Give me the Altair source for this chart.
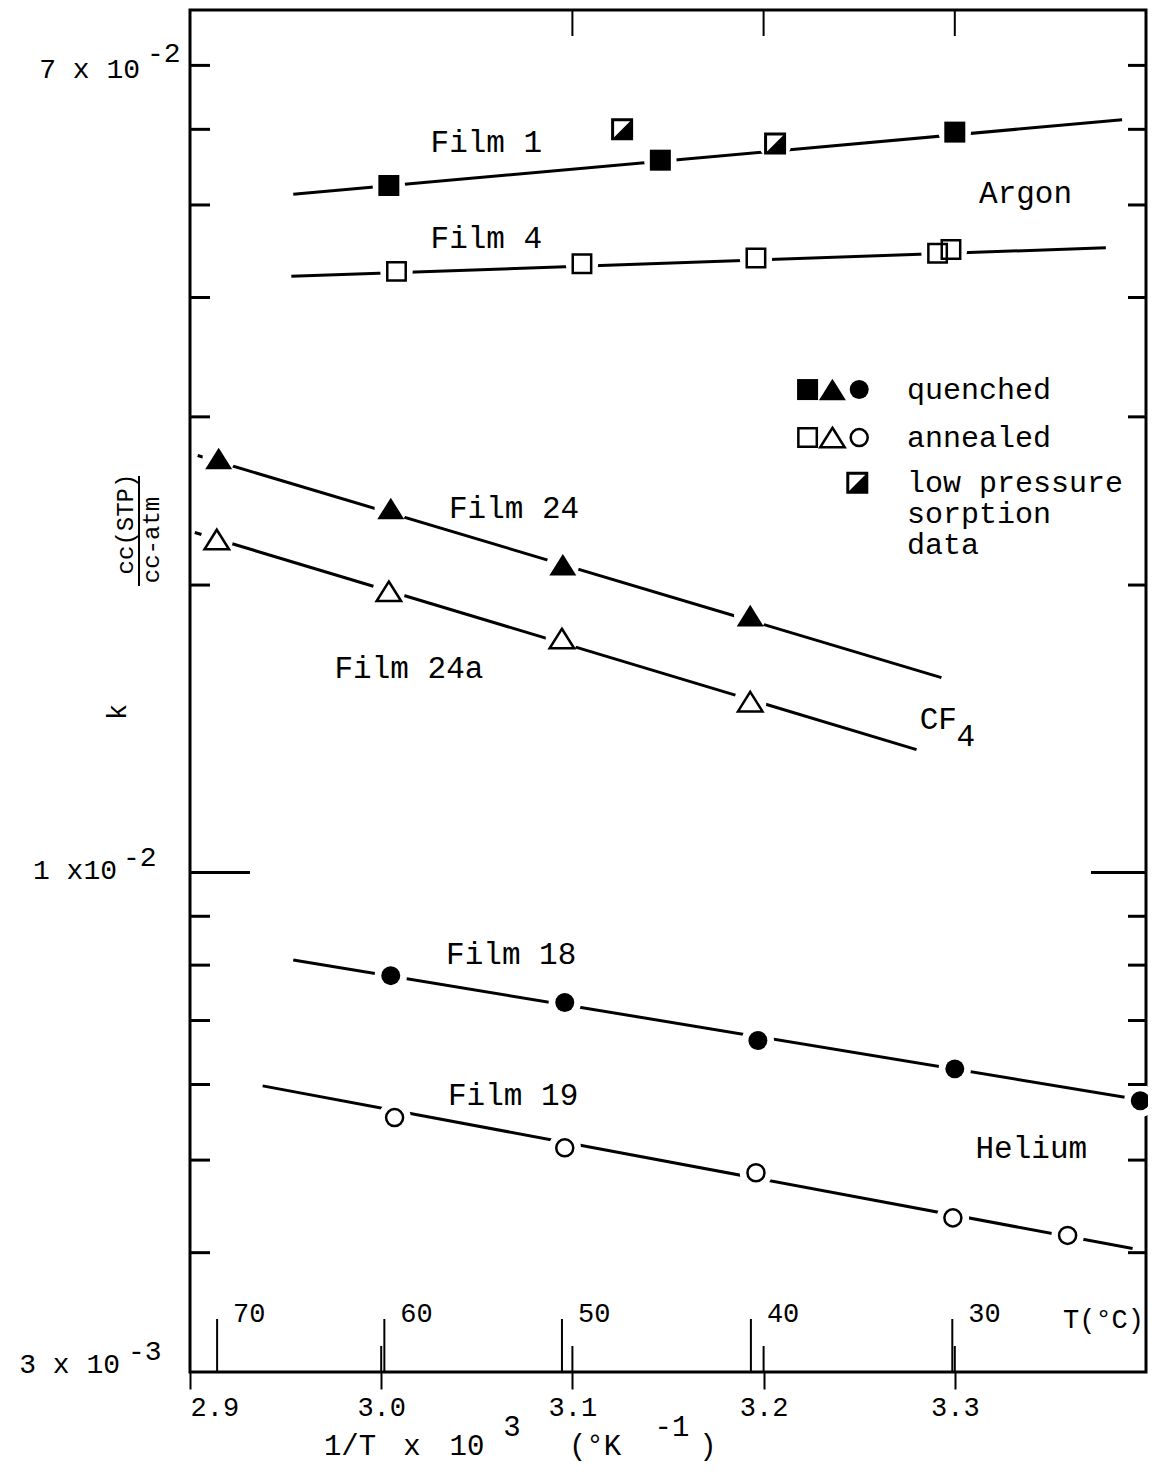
import altair as alt
import pandas as pd

# ---------------- values ----------------
# Argon
film1_x = [3.004, 3.146, 3.300]
film1_k = [0.0524, 0.0557, 0.0596]
lowp_x = [3.126, 3.206]
lowp_k = [0.0600, 0.0580]
film4_x = [3.008, 3.105, 3.196, 3.291, 3.298]
film4_k = [0.0426, 0.0434, 0.0440, 0.0445, 0.0449]
# CF4
film24_x = [2.915, 3.005, 3.095, 3.193]
film24_k = [0.02713, 0.02405, 0.02100, 0.01858]
film24a_x = [2.914, 3.004, 3.0945, 3.193]
film24a_k = [0.02232, 0.01970, 0.01758, 0.01510]
# Helium
film18_x = [3.005, 3.096, 3.197, 3.300, 3.397]
film18_k = [0.00780, 0.00731, 0.00667, 0.00623, 0.00577]
film19_x = [3.007, 3.096, 3.196, 3.299, 3.359]
film19_k = [0.00554, 0.00515, 0.00485, 0.00435, 0.00417]

# drawn straight lines (end points)
line_names = ["Film 1", "Film 4", "Film 24", "Film 24a", "Film 18", "Film 19"]
line_x0 = [2.954, 2.953, 2.904, 2.9025, 2.954, 2.938]
line_x1 = [3.3875, 3.379, 3.293, 3.280, 3.400, 3.393]
line_k0 = [0.0513, 0.0421, 0.02733, 0.0227, 0.0081, 0.00598]
line_k1 = [0.0614, 0.0451, 0.0160, 0.01345, 0.00577, 0.00404]

# in-plot labels
label_text = ["Film 1", "Film 4", "Argon", "Film 24", "Film 24a", "Film 18", "Film 19", "Helium"]
label_x = [3.055, 3.055, 3.337, 3.0695, 3.0145, 3.068, 3.069, 3.340]
label_k = [0.0581, 0.0461, 0.0513, 0.0240, 0.01632, 0.0082, 0.00584, 0.00514]
cf_x, cf_k = 3.2914, 0.01443
cf_sub_x, cf_sub_k = 3.3057, 0.01385

# legend
leg_sym_x = [3.223, 3.236, 3.250]
leg_row_k = [0.03204, 0.02854]
leg_half_x, leg_half_k = 3.249, 0.0256
leg_text = ["quenched", "annealed", "low pressure\nsorption\ndata"]
leg_text_x = 3.275
leg_text_k = [0.03204, 0.02854, 0.0256]

# axes
x_ticks = [2.9, 3.0, 3.1, 3.2, 3.3]
x_inner_ticks = [3.0, 3.1, 3.2, 3.3]
x_top_ticks = [3.1, 3.2, 3.3]
temp_c = [70, 60, 50, 40, 30]
y_minor = [0.004, 0.005, 0.006, 0.007, 0.008, 0.009, 0.02, 0.03, 0.04, 0.05, 0.06, 0.07]
y_major = [0.01]
ylab_vals = [0.07, 0.01, 0.003]
ylab_base = ["7 x 10", "1 x10", "3 x 10"]
ylab_exp = ["-2", "-2", "-3"]

# ---------------- layout ----------------
W, H = 956, 1362
FONT = "Liberation Mono"
xs = alt.Scale(domain=[2.9, 3.4], nice=False, zero=False)
ys = alt.Scale(type="log", domain=[0.003, 0.08], nice=False)

xaxis = alt.Axis(values=x_ticks, format=".1f", tickSize=17, tickWidth=2,
                 tickColor="black", domain=False, grid=False, labelFont=FONT,
                 labelFontSize=27, labelColor="black", labelPadding=5,
                 labelFlush=True, title=None)


def X(field="x"):
    return alt.X(f"{field}:Q", scale=xs, axis=xaxis)


def Y(field="k"):
    return alt.Y(f"{field}:Q", scale=ys, axis=None)


layers = []

# lines
rows = []
for n, a, b, c, d in zip(line_names, line_x0, line_x1, line_k0, line_k1):
    rows.append({"name": n, "x": a, "k": c})
    rows.append({"name": n, "x": b, "k": d})
lines_df = pd.DataFrame(rows)
layers.append(alt.Chart(lines_df).mark_line(color="black", strokeWidth=3).encode(
    x=X(), y=Y(), detail="name:N"))


def pts(xv, kv):
    return pd.DataFrame({"x": xv, "k": kv})


fsq = pts(film1_x, film1_k)
osq = pts(film4_x, film4_k)
ftri = pts(film24_x, film24_k)
otri = pts(film24a_x, film24a_k)
fcir = pts(film18_x, film18_k)
ocir = pts(film19_x, film19_k)
half = pts(lowp_x, lowp_k)

# white halos break the lines around the markers
halo = pd.concat([fsq, osq, ftri, otri, fcir, ocir, half])
layers.append(alt.Chart(halo).mark_point(shape="circle", filled=True, color="white",
                                         opacity=1, size=1050).encode(x=X(), y=Y()))

TRI = "M0,-0.8L1,0.8L-1,0.8Z"
HALF = "M1,-1L1,1L-1,1Z"

legend_q = pd.DataFrame({"x": leg_sym_x, "k": [leg_row_k[0]] * 3})
legend_a = pd.DataFrame({"x": leg_sym_x, "k": [leg_row_k[1]] * 3})
half_all = pd.concat([half, pts([leg_half_x], [leg_half_k])])


def marker(df, shape, filled, size, sw=2.5):
    if filled:
        m = alt.Chart(df).mark_point(shape=shape, filled=True, color="black",
                                     opacity=1, size=size, strokeWidth=0)
    else:
        m = alt.Chart(df).mark_point(shape=shape, filled=False, color="black",
                                     opacity=1, size=size, strokeWidth=sw)
    return m.encode(x=X(), y=Y())


layers += [
    marker(pd.concat([fsq, legend_q.iloc[[0]]]), "square", True, 441),
    marker(pd.concat([osq, legend_a.iloc[[0]]]), "square", False, 340),
    marker(pd.concat([ftri, legend_q.iloc[[1]]]), TRI, True, 729),
    marker(pd.concat([otri, legend_a.iloc[[1]]]), TRI, False, 600),
    marker(pd.concat([fcir, legend_q.iloc[[2]]]), "circle", True, 360),
    marker(pd.concat([ocir, legend_a.iloc[[2]]]), "circle", False, 290),
    marker(half_all, HALF, True, 361),
    marker(half_all, "square", False, 361, sw=3),
]

# in-plot labels
lab_df = pd.DataFrame({"x": label_x, "k": label_k, "t": label_text})
layers.append(alt.Chart(lab_df).mark_text(font=FONT, fontSize=31, color="black").encode(
    x=X(), y=Y(), text="t:N"))
layers.append(alt.Chart(pd.DataFrame({"x": [cf_x], "k": [cf_k], "t": ["CF"]})).mark_text(
    font=FONT, fontSize=31, color="black").encode(x=X(), y=Y(), text="t:N"))
layers.append(alt.Chart(pd.DataFrame({"x": [cf_sub_x], "k": [cf_sub_k], "t": ["4"]})).mark_text(
    font=FONT, fontSize=31, color="black").encode(x=X(), y=Y(), text="t:N"))

# legend text
leg_df = pd.DataFrame({"x": [leg_text_x] * len(leg_text), "k": leg_text_k, "t": leg_text})
layers.append(alt.Chart(leg_df).mark_text(font=FONT, fontSize=30, color="black",
                                          align="left", lineBreak="\n", lineHeight=31).encode(
    x=X(), y=Y(), text="t:N"))

# y ticks (inward, both sides)
ymin_df = pd.DataFrame({"k": y_minor})
ymaj_df = pd.DataFrame({"k": y_major})
layers.append(alt.Chart(ymin_df).mark_rule(color="black", strokeWidth=3).encode(
    y=Y(), x=alt.value(0), x2=alt.value(20)))
layers.append(alt.Chart(ymin_df).mark_rule(color="black", strokeWidth=3).encode(
    y=Y(), x=alt.value(W - 18), x2=alt.value(W)))
layers.append(alt.Chart(ymaj_df).mark_rule(color="black", strokeWidth=3).encode(
    y=Y(), x=alt.value(0), x2=alt.value(60)))
layers.append(alt.Chart(ymaj_df).mark_rule(color="black", strokeWidth=3).encode(
    y=Y(), x=alt.value(W - 55), x2=alt.value(W)))

# x inward ticks
layers.append(alt.Chart(pd.DataFrame({"x": x_inner_ticks})).mark_rule(color="black", strokeWidth=2).encode(
    x=X(), y=alt.value(H - 26), y2=alt.value(H)))
layers.append(alt.Chart(pd.DataFrame({"x": x_top_ticks})).mark_rule(color="black", strokeWidth=2).encode(
    x=X(), y=alt.value(0), y2=alt.value(26)))

# temperature scale
temp_df = pd.DataFrame({"x": [1000.0 / (t + 273.15) for t in temp_c], "t": [str(t) for t in temp_c]})
layers.append(alt.Chart(temp_df).mark_rule(color="black", strokeWidth=2).encode(
    x=X(), y=alt.value(H - 53), y2=alt.value(H)))
layers.append(alt.Chart(temp_df).mark_text(font=FONT, fontSize=27, color="black", align="left",
                                           dx=16).encode(x=X(), y=alt.value(H - 58), text="t:N"))
layers.append(alt.Chart(pd.DataFrame({"t": ["T(°C)"]})).mark_text(
    font=FONT, fontSize=27, color="black", align="right").encode(
    x=alt.value(W - 2), y=alt.value(H - 52), text="t:N"))

# y tick labels with raised exponents
ylab_x = [-50, -73, -70]
ylab_dy = [5, -2, -7]
yexp_x = [-43, -67, -62]
yexp_dy = [-11, -15, -20]
for v, b, e, bx, bdy, ex, edy in zip(ylab_vals, ylab_base, ylab_exp, ylab_x, ylab_dy, yexp_x, yexp_dy):
    d = pd.DataFrame({"k": [v], "b": [b], "e": [e]})
    layers.append(alt.Chart(d).mark_text(font=FONT, fontSize=28, color="black", align="right",
                                         dy=bdy).encode(y=Y(), x=alt.value(bx), text="b:N"))
    layers.append(alt.Chart(d).mark_text(font=FONT, fontSize=28, color="black", align="left",
                                         dy=edy).encode(y=Y(), x=alt.value(ex), text="e:N"))

# y-axis title: k  cc(STP)/cc-atm (rotated)
layers.append(alt.Chart(pd.DataFrame({"t": ["k"]})).mark_text(
    font=FONT, fontSize=27, color="black", angle=270).encode(
    x=alt.value(-72), y=alt.value(702), text="t:N"))
layers.append(alt.Chart(pd.DataFrame({"t": ["cc(STP)"]})).mark_text(
    font=FONT, fontSize=24, color="black", angle=270).encode(
    x=alt.value(-64), y=alt.value(514), text="t:N"))
layers.append(alt.Chart(pd.DataFrame({"t": ["cc-atm"]})).mark_text(
    font=FONT, fontSize=24, color="black", angle=270).encode(
    x=alt.value(-38), y=alt.value(530), text="t:N"))
layers.append(alt.Chart(pd.DataFrame({"t": ["line"]})).mark_rule(color="black", strokeWidth=2).encode(
    x=alt.value(-51), y=alt.value(466), y2=alt.value(576)))

# x-axis title with superscripts
title_parts = ["1/T", "x", "10", "3", "(°K", "-1", ")"]
title_px = [160, 222, 277, 322, 405, 482, 518]
title_py = [1436, 1436, 1436, 1417, 1436, 1417, 1436]
for t, px, py in zip(title_parts, title_px, title_py):
    layers.append(alt.Chart(pd.DataFrame({"t": [t]})).mark_text(
        font=FONT, fontSize=29, color="black").encode(
        x=alt.value(px), y=alt.value(py), text="t:N"))

chart = alt.layer(*layers).properties(
    width=W, height=H,
    autosize=alt.AutoSizeParams(type="none"),
    padding={"left": 182, "top": 2, "right": 2, "bottom": 100},
    background="white",
).configure_view(stroke="black", strokeWidth=3)

chart.save("out.html", embed_options={"renderer": "svg", "actions": False})
